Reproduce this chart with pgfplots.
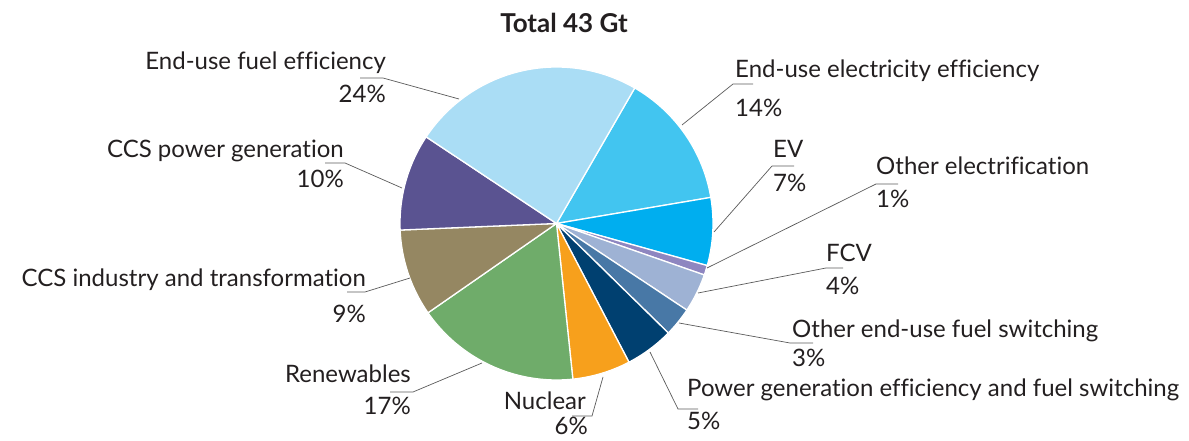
\documentclass[border=0pt]{standalone}
\usepackage{pgfplots}
\usepackage{pgfplotstable}
\pgfplotsset{compat=1.18}
\usepackage{fontspec}
\setmainfont{Lato}[Ligatures={NoCommon}]
\definecolor{celec}{HTML}{42C5F0}
\definecolor{cev}{HTML}{00AEEF}
\definecolor{coel}{HTML}{8E86C0}
\definecolor{cfcv}{HTML}{9EB2D4}
\definecolor{cofs}{HTML}{4878A6}
\definecolor{cpow}{HTML}{004070}
\definecolor{cnuc}{HTML}{F7A01C}
\definecolor{cren}{HTML}{6FAC6A}
\definecolor{cccsi}{HTML}{958762}
\definecolor{cccsp}{HTML}{5A5391}
\definecolor{cfuel}{HTML}{AADDF5}
\definecolor{txt}{HTML}{231F20}
\definecolor{lead}{HTML}{5A5A5A}
% share of 43 Gt (%), clockwise from 60 degrees
\pgfplotstableread{
pct col
14 celec
7 cev
1 coel
4 cfcv
3 cofs
5 cpow
6 cnuc
17 cren
9 cccsi
10 cccsp
24 cfuel
}\piedata
\begin{document}
\begin{tikzpicture}[every node/.style={inner sep=0pt, text=txt, font=\fontsize{24}{28}\selectfont}]
\begin{axis}[
  width=1189pt, height=441pt, scale only axis,
  xmin=0, xmax=1189, ymin=0, ymax=441,
  hide axis, clip=false]
\xdef\curang{60}
\pgfplotsforeachungrouped \i in {0,...,10}{%
  \pgfplotstablegetelem{\i}{pct}\of\piedata \let\slicep=\pgfplotsretval
  \pgfplotstablegetelem{\i}{col}\of\piedata \let\slicec=\pgfplotsretval
  \pgfmathsetmacro{\endang}{\curang-3.6*\slicep}
  \edef\cmd{\noexpand\addplot[fill=\slicec, draw=white, line width=1.3pt, line join=round, domain=\endang:\curang, samples=60] ({556.5+156.5*cos(x)},{217.5+156.5*sin(x)}) -- (axis cs:556.5,217.5) -- cycle;}
  \cmd
  \xdef\curang{\endang}
}
% leader lines
\begin{scope}[draw=lead, line width=0.7pt]
\draw (axis cs:360,363) -- (axis cs:383,363) -- (axis cs:459,342);
\draw (axis cs:753,357) -- (axis cs:733,357) -- (axis cs:682,316);
\draw (axis cs:325,278) -- (axis cs:345,278) -- (axis cs:402,253);
\draw (axis cs:347,149) -- (axis cs:365,149) -- (axis cs:410,163);
\draw (axis cs:390,49) -- (axis cs:413,49) -- (axis cs:482,78);
\draw (axis cs:572,25) -- (axis cs:592,25) -- (axis cs:603,64);
\draw (axis cs:698,32) -- (axis cs:678,32) -- (axis cs:650,89);
\draw (axis cs:813,98) -- (axis cs:790,98) -- (axis cs:679,118);
\draw (axis cs:794,275) -- (axis cs:772,275) -- (axis cs:714,209);
\draw (axis cs:898,257) -- (axis cs:876,257) -- (axis cs:707,173);
\draw (axis cs:843,173) -- (axis cs:826,173) -- (axis cs:698,148);
\end{scope}
% labels
\node[anchor=base east] at (axis cs:386,371) {End-use fuel efficiency};
\node[anchor=base east] at (axis cs:386,338) {24\%};
\node[anchor=base west] at (axis cs:735,363) {End-use electricity efficiency};
\node[anchor=base west] at (axis cs:735,324) {14\%};
\node[anchor=base east] at (axis cs:344,283) {CCS power generation};
\node[anchor=base east] at (axis cs:344,253) {10\%};
\node[anchor=base east] at (axis cs:366,154) {CCS industry and transformation};
\node[anchor=base east] at (axis cs:366,118) {9\%};
\node[anchor=base east] at (axis cs:411,58) {Renewables};
\node[anchor=base east] at (axis cs:411,26) {17\%};
\node[anchor=base east] at (axis cs:586,31) {Nuclear};
\node[anchor=base east] at (axis cs:588,6) {6\%};
\node[anchor=base west] at (axis cs:687,44) {Power generation efficiency and fuel switching};
\node[anchor=base west] at (axis cs:687,11) {5\%};
\node[anchor=base west] at (axis cs:792,103) {Other end-use fuel switching};
\node[anchor=base west] at (axis cs:792,74) {3\%};
\node[anchor=base west] at (axis cs:773,283) {EV};
\node[anchor=base west] at (axis cs:773,249) {7\%};
\node[anchor=base west] at (axis cs:876,266) {Other electrification};
\node[anchor=base west] at (axis cs:876,233) {1\%};
\node[anchor=base west] at (axis cs:826,179) {FCV};
\node[anchor=base west] at (axis cs:826,146) {4\%};
\node[anchor=base, font=\fontsize{26}{30}\selectfont\bfseries] at (axis cs:564,408) {Total 43 Gt};
\end{axis}
\pgfresetboundingbox
\path[use as bounding box] (0,0) rectangle (1189pt,441pt);
\end{tikzpicture}
\end{document}
